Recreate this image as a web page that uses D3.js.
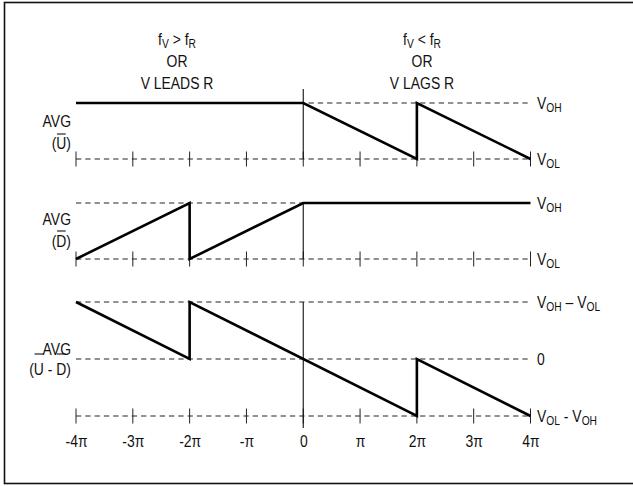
<!DOCTYPE html>
<html>
<head>
<meta charset="utf-8">
<script src="https://cdn.jsdelivr.net/npm/d3@7"></script>
<style>
  html, body { margin: 0; padding: 0; background: #fff; }
  svg text { font-family: "Liberation Sans", Arial, sans-serif; fill: #111; }
</style>
</head>
<body>
<svg id="chart" width="633" height="486"></svg>
<script>
// ---- data (phase in units of π, level normalised) ----
const PHASE_TICKS = [-4, -3, -2, -1, 0, 1, 2, 3, 4];
const TICK_LABELS = ["-4π", "-3π", "-2π", "-π", "0", "π", "2π", "3π", "4π"];

const U_PHASE = [-4, 0, 2, 2, 4];
const U_LEVEL = [1, 1, 0, 1, 0];

const D_PHASE = [-4, -2, -2, 0, 4];
const D_LEVEL = [0, 1, 0, 1, 1];

const UD_PHASE = [-4, -2, -2, 2, 2, 4];
const UD_LEVEL = [1, 0, 1, -1, 0, -1];

const HEADINGS_LEFT = ["f{V} > f{R}", "OR", "V LEADS R"];
const HEADINGS_RIGHT = ["f{V} < f{R}", "OR", "V LAGS R"];

const PANEL1_LEVELS = [1, 0];
const PANEL1_LABELS = ["V{OH}", "V{OL}"];
const PANEL2_LEVELS = [1, 0];
const PANEL2_LABELS = ["V{OH}", "V{OL}"];
const PANEL3_LEVELS = [1, 0, -1];
const PANEL3_LABELS = ["V{OH} – V{OL}", "0", "V{OL} - V{OH}"];

// ---- layout ----
const svg = d3.select("#chart");
const FS = 17, SUB = 12.5, SX = 0.82;

svg.append("rect").attr("x", 4.5).attr("y", 2.5).attr("width", 632).attr("height", 481)
  .attr("fill", "none").attr("stroke", "#111").attr("stroke-width", 1.6);

const x = d3.scaleLinear().domain([-4, 4]).range([76, 530.5]);
const y1 = d3.scaleLinear().domain([0, 1]).range([159, 103]);
const y2 = d3.scaleLinear().domain([0, 1]).range([259, 203]);
const y3 = d3.scaleLinear().domain([-1, 1]).range([416, 302]);

function narrowGroup(tx, ty) {
  return svg.append("g").attr("transform", `translate(${tx},${ty}) scale(${SX},1)`);
}

// rich text with {sub} subscripts, condensed horizontally
function richText(str, tx, ty, anchor, subDy) {
  const g = narrowGroup(tx, ty);
  const t = g.append("text").attr("x", 0).attr("y", 0)
    .attr("text-anchor", anchor).attr("font-size", FS);
  const parts = str.split(/(\{[^}]*\})/).filter(s => s.length);
  let down = false;
  parts.forEach(p => {
    if (p.startsWith("{")) {
      t.append("tspan").attr("font-size", SUB).attr("dy", down ? 0 : subDy).text(p.slice(1, -1));
      down = true;
    } else {
      t.append("tspan").attr("font-size", FS).attr("dy", down ? -subDy : 0).text(p);
      down = false;
    }
  });
  return t;
}

// dashed reference lines
const dash = "5.3,4";
function hDash(yScale, level) {
  svg.append("line").attr("x1", x(-4)).attr("x2", x(4))
    .attr("y1", yScale(level)).attr("y2", yScale(level))
    .attr("stroke", "#222").attr("stroke-width", 1).attr("stroke-dasharray", dash);
}
PANEL1_LEVELS.forEach(l => hDash(y1, l));
PANEL2_LEVELS.forEach(l => hDash(y2, l));
PANEL3_LEVELS.forEach(l => hDash(y3, l));

// small ticks on the low lines
function ticks(yv) {
  svg.append("g").selectAll("line").data(PHASE_TICKS).join("line")
    .attr("x1", d => x(d)).attr("x2", d => x(d))
    .attr("y1", yv - 7.5).attr("y2", yv + 7.5)
    .attr("stroke", "#222").attr("stroke-width", 1);
}
ticks(y1(0)); ticks(y2(0)); ticks(y3(-1));

// vertical zero lines
const vl = (a, b) => svg.append("line").attr("x1", x(0)).attr("x2", x(0))
  .attr("y1", a).attr("y2", b).attr("stroke", "#111").attr("stroke-width", 1.1);
vl(y1(1) - 14, y1(0));
vl(y2(1), y2(0));
vl(y3(1), y3(-1) + 12);

// thick waveforms
function wave(ph, lv, yScale) {
  const pts = ph.map((p, i) => [p, lv[i]]);
  svg.append("path").datum(pts)
    .attr("d", d3.line().x(d => x(d[0])).y(d => yScale(d[1])))
    .attr("fill", "none").attr("stroke", "#000").attr("stroke-width", 2.6)
    .attr("stroke-linejoin", "miter");
}
wave(U_PHASE, U_LEVEL, y1);
wave(D_PHASE, D_LEVEL, y2);
wave(UD_PHASE, UD_LEVEL, y3);

// headings
const hy = [45, 67, 89];
HEADINGS_LEFT.forEach((s, i) => richText(s, 177, hy[i], "middle", 3));
HEADINGS_RIGHT.forEach((s, i) => richText(s, 422, hy[i], "middle", 3));

// right labels
function rightLabels(levels, labels, yScale) {
  levels.forEach((l, i) => richText(labels[i], 537, yScale(l) + 6, "start", 3));
}
rightLabels(PANEL1_LEVELS, PANEL1_LABELS, y1);
rightLabels(PANEL2_LEVELS, PANEL2_LABELS, y2);
rightLabels(PANEL3_LEVELS, PANEL3_LABELS, y3);

// left labels with overlines
function leftLabel(top, bottom, overIdx, yTop, yBot, yOver) {
  narrowGroup(71, yTop).append("text").attr("text-anchor", "end")
    .attr("font-size", FS).text(top);
  const g = narrowGroup(71, yBot);
  const t = g.append("text").attr("text-anchor", "end").attr("font-size", FS).text(bottom);
  const node = t.node();
  const total = node.getComputedTextLength();
  const start = -total;
  overIdx.forEach(i => {
    const x0 = start + node.getSubStringLength(0, i);
    const w = node.getSubStringLength(i, 1);
    g.append("line").attr("x1", x0 + 0.8).attr("x2", x0 + w - 0.8)
      .attr("y1", yOver - yBot).attr("y2", yOver - yBot)
      .attr("stroke", "#111").attr("stroke-width", 1.1);
  });
}
leftLabel("AVG", "(U)", [1], 127, 149, 134);
leftLabel("AVG", "(D)", [1], 225, 247, 231);
leftLabel("AVG", "(U - D)", [1, 5], 355, 375, 354);

// bottom axis labels
const axis = d3.axisBottom(x).tickValues(PHASE_TICKS)
  .tickFormat((d, i) => TICK_LABELS[i]).tickSize(0).tickPadding(0);
const ag = svg.append("g").attr("transform", "translate(0,447)").call(axis);
ag.select(".domain").remove();
ag.selectAll("text").attr("dy", 0).attr("y", 0)
  .attr("transform", `scale(${SX},1)`)
  .attr("font-size", FS).attr("fill", "#111")
  .attr("font-family", "'Liberation Sans', Arial, sans-serif");
</script>
</body>
</html>
